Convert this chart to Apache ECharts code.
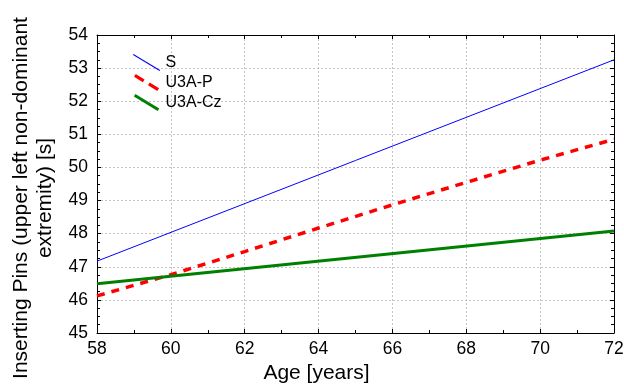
<!DOCTYPE html>
<html>
<head>
<meta charset="utf-8">
<script src="https://cdn.jsdelivr.net/npm/echarts@6/dist/echarts.min.js"></script>
<style>
  html, body { margin: 0; padding: 0; background: #fff; }
  #chart { width: 624px; height: 385px; }
</style>
</head>
<body>
<div id="chart"></div>
<script>
// 数据
const ageS = [58, 72];
const valS = [47.17, 53.25];
const ageP = [58, 60, 62, 64, 66, 68, 70, 72];
const valP = [46.12, 46.76, 47.46, 48.17, 48.87, 49.55, 50.22, 50.85];
const ageCz = [58, 72];
const valCz = [46.49, 48.08];
const seriesNames = ['S', 'U3A-P', 'U3A-Cz'];

const font = 'Liberation Sans, Arial, sans-serif';

const pair = (xs, ys) => xs.map((x, i) => [x, ys[i]]);

// 图例斜线图标
const iconS = 'path://M-0.29,0.47L27.71,17.47L28.29,16.53L0.29,-0.47Z';
const iconP = 'path://M-1.04,1.71L9.56,8.21L11.64,4.79L1.04,-1.71Z' +
  'M15.76,11.91L26.96,18.71L29.04,15.29L17.84,8.49Z';
const iconCz = 'path://M-0.91,1.5L27.09,18.5L28.91,15.5L0.91,-1.5Z';

const myChart = echarts.init(document.getElementById('chart'));

const tickOpts = {
    axisLine: { show: true, onZero: false, lineStyle: { color: '#000', width: 1 } },
    axisTick: { show: true, inside: true, length: 4, lineStyle: { color: '#000' } },
    minorTick: { show: true, length: 3, lineStyle: { color: '#000' } }
};

const option = {
    animation: false,
    grid: { left: 97, right: 10, top: 35, bottom: 52, outerBoundsMode: 'none', containLabel: false },
    legend: {
        orient: 'vertical',
        left: 133,
        top: 54,
        padding: 0,
        itemWidth: 28,
        itemHeight: 17,
        itemGap: 3,
        itemStyle: { borderWidth: 0 },
        textStyle: { fontFamily: font, fontSize: 16, color: '#000' },
        data: [
            { name: seriesNames[0], icon: iconS },
            { name: seriesNames[1], icon: iconP },
            { name: seriesNames[2], icon: iconCz }
        ]
    },
    xAxis: [
        {
            type: 'value', min: 58, max: 72, interval: 2,
            ...tickOpts,
            minorTick: { ...tickOpts.minorTick, splitNumber: 2 },
            axisLabel: { fontFamily: font, fontSize: 17.5, color: '#000', margin: 7 },
            splitLine: { show: true, lineStyle: { color: '#c4c4c4', type: [2, 2], width: 1 } },
            name: 'Age [years]',
            nameLocation: 'middle',
            nameGap: 28,
            nameTextStyle: { fontFamily: font, fontSize: 21, color: '#000', padding: [0, 78, 0, 0] }
        },
        {
            type: 'value', min: 58, max: 72, interval: 2, position: 'top',
            ...tickOpts,
            minorTick: { ...tickOpts.minorTick, splitNumber: 2 },
            axisLabel: { show: false },
            splitLine: { show: false }
        }
    ],
    yAxis: [
        {
            type: 'value', min: 45, max: 54, interval: 1,
            ...tickOpts,
            minorTick: { ...tickOpts.minorTick, splitNumber: 4 },
            axisLabel: { fontFamily: font, fontSize: 17.5, color: '#000', margin: 9 },
            splitLine: { show: true, lineStyle: { color: '#c4c4c4', type: [2, 2], width: 1 } },
            name: 'Inserting Pins (upper left non-dominant\nextremity) [s]',
            nameLocation: 'middle',
            nameRotate: 90,
            nameGap: 38,
            nameTextStyle: { fontFamily: font, fontSize: 21, color: '#000', lineHeight: 24, align: 'center', padding: [0, 28, 0, 0] }
        },
        {
            type: 'value', min: 45, max: 54, interval: 1, position: 'right',
            ...tickOpts,
            minorTick: { ...tickOpts.minorTick, splitNumber: 4 },
            axisLabel: { show: false },
            splitLine: { show: false }
        }
    ],
    series: [
        {
            name: seriesNames[0], type: 'line', symbol: 'none',
            data: pair(ageS, valS),
            itemStyle: { color: '#0000ff' },
            lineStyle: { color: '#0000ff', width: 1 }
        },
        {
            name: seriesNames[1], type: 'line', symbol: 'none',
            data: pair(ageP, valP),
            itemStyle: { color: '#ff0000' },
            lineStyle: { color: '#ff0000', width: 3.5, type: [8, 7] }
        },
        {
            name: seriesNames[2], type: 'line', symbol: 'none',
            data: pair(ageCz, valCz),
            itemStyle: { color: '#008000' },
            lineStyle: { color: '#008000', width: 3 }
        }
    ]
};

option && myChart.setOption(option);
</script>
</body>
</html>
